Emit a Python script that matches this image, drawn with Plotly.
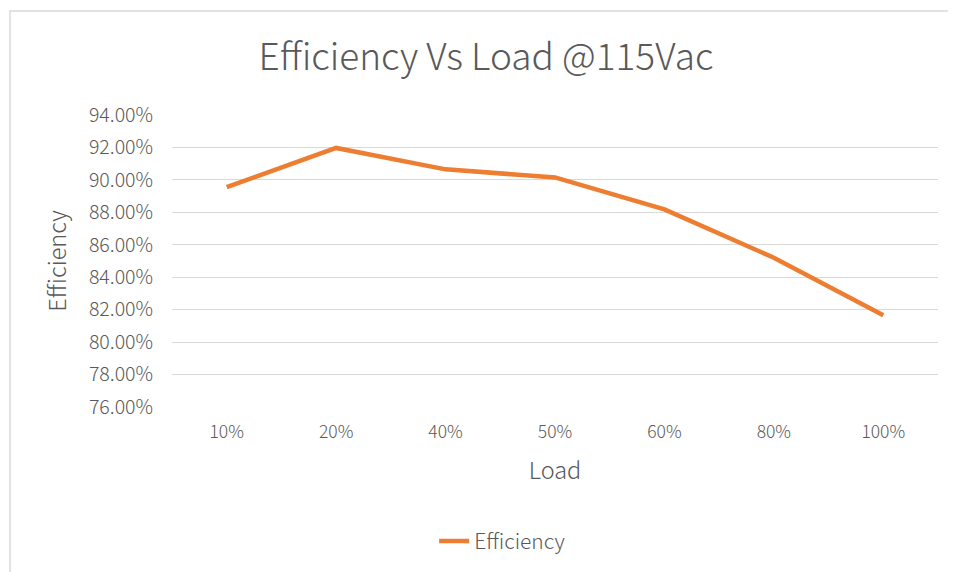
import plotly.graph_objects as go

# datos
carga = ["10%", "20%", "40%", "50%", "60%", "80%", "100%"]
eficiencia = [0.8955, 0.9197, 0.9065, 0.9015, 0.8818, 0.8520, 0.8165]

fuente = "Noto Sans CJK SC"
gris = "#595959"

fig = go.Figure()
fig.add_trace(go.Scatter(x=carga, y=eficiencia, mode="lines", name="Efficiency",
                         line=dict(color="#ED7D31", width=4.5)))

# la pagina tiene 8px de margen, se compensa en los margenes
fig.update_layout(
    width=956, height=572,
    margin=dict(l=164, r=26, t=107, b=173, autoexpand=False),
    paper_bgcolor="white", plot_bgcolor="white",
    font=dict(family=fuente, color=gris),
    title=dict(text="Efficiency Vs Load @115Vac", x=0.5, xanchor="center",
               y=0.914, yanchor="middle", font=dict(size=37, color=gris, weight=300)),
    showlegend=True,
    legend=dict(orientation="h", x=0.431, xanchor="center", y=-0.46, yanchor="middle",
                font=dict(size=21, color=gris, weight=300)),
)

fig.update_xaxes(type="category", range=[-0.5, 6.5], showgrid=False, showline=False,
                 zeroline=False, automargin=False,
                 tickfont=dict(size=17.5, color=gris, weight=300), ticklabelstandoff=12,
                 title=dict(text="Load", font=dict(size=23.5, color=gris, weight=300), standoff=21))
fig.update_yaxes(range=[0.76, 0.94], dtick=0.02, tickformat=".2%", automargin=False,
                 showgrid=True, gridcolor="#D9D9D9", gridwidth=1, zeroline=False,
                 tickfont=dict(size=19.5, color=gris, weight=300), ticklabelstandoff=18,
                 title=dict(text="Efficiency", font=dict(size=23.5, color=gris, weight=300), standoff=15))

# borde del area del grafico
fig.add_shape(type="rect", xref="paper", yref="paper", x0=-0.2115, x1=1.3, y0=-0.7, y1=1.356,
              line=dict(color="#D9D9D9", width=1.5), layer="below")

fig.write_html("out.html")
